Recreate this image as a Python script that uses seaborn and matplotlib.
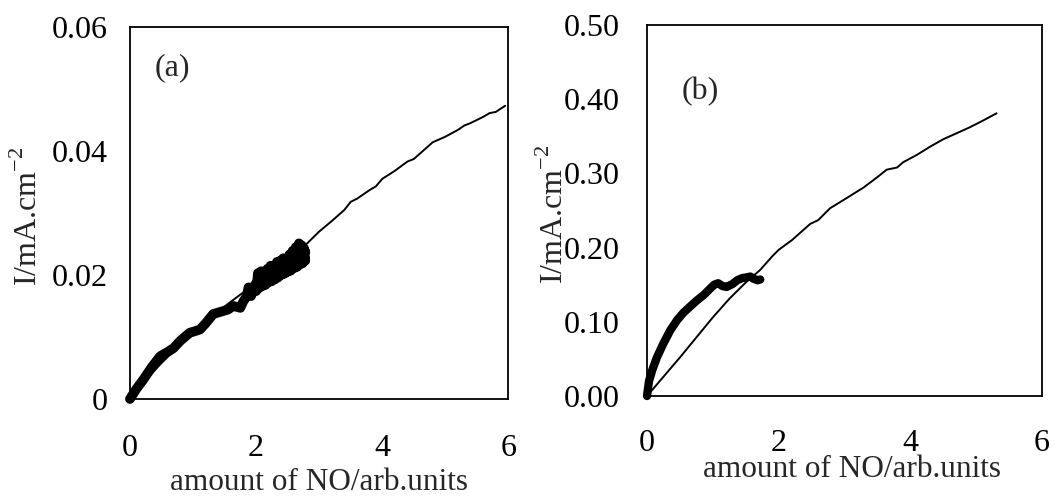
import matplotlib
matplotlib.use('Agg')
import matplotlib.pyplot as plt
import seaborn as sns
from matplotlib.ticker import FuncFormatter

sns.set_style('white')
plt.rcParams['font.family'] = ['Liberation Serif', 'DejaVu Serif']
plt.rcParams['mathtext.fontset'] = 'custom'
plt.rcParams['mathtext.rm'] = 'Liberation Serif'

# panel (a): thin line over the full range
a_thin_x = [0, 0.2, 0.5, 0.8, 1.0, 1.3, 1.6, 2.0, 2.4, 2.8, 3.0, 3.2, 3.4, 3.5, 3.6,
            3.8, 3.9, 4.0, 4.2, 4.4, 4.5, 4.6, 4.8, 5.0, 5.2, 5.3, 5.4, 5.6, 5.7, 5.8, 5.95]
a_thin_y = [0, 0.0025, 0.0058, 0.0088, 0.0108, 0.0133, 0.0157, 0.0187, 0.0218, 0.0250,
            0.0270, 0.0287, 0.0305, 0.0318, 0.0323, 0.0337, 0.0343, 0.0355, 0.0368, 0.0383,
            0.0387, 0.0396, 0.0414, 0.0423, 0.0434, 0.0441, 0.0445, 0.0455, 0.0461, 0.0463, 0.0473]

# panel (a): thick noisy measurement
a_thick_x = [0, 0.1, 0.21, 0.35, 0.48, 0.6, 0.69, 0.8, 0.95, 1.02, 1.11, 1.2, 1.32, 1.45,
             1.55, 1.64, 1.75, 1.8, 1.85, 1.88, 1.92, 1.95, 1.98, 2.0, 2.03, 2.05, 2.08,
             2.1, 2.13, 2.15, 2.18, 2.2, 2.23, 2.25, 2.28, 2.3, 2.33, 2.35, 2.38, 2.4, 2.43,
             2.45, 2.48, 2.5, 2.53, 2.55, 2.58, 2.6, 2.63, 2.65, 2.68, 2.7, 2.72, 2.74,
             2.76, 2.78, 2.75, 2.78]
a_thick_y = [0, 0.0016, 0.0031, 0.0052, 0.0069, 0.0076, 0.0082, 0.0094, 0.0107, 0.0109,
             0.0112, 0.0122, 0.0137, 0.0141, 0.0144, 0.0150, 0.0147, 0.0158, 0.0165, 0.0180,
             0.0166, 0.0174, 0.0184, 0.0174, 0.0203, 0.0179, 0.0206, 0.0182, 0.0199, 0.0184,
             0.0210, 0.0188, 0.0215, 0.0190, 0.0209, 0.0193, 0.0221, 0.0196, 0.0223, 0.0200,
             0.0227, 0.0202, 0.0221, 0.0205, 0.0233, 0.0207, 0.0239, 0.0211, 0.0245, 0.0213,
             0.0251, 0.0217, 0.0248, 0.0219, 0.0243, 0.0223, 0.0233, 0.0238]

# panel (b): thin line
b_thin_x = [0, 0.25, 0.5, 0.75, 1.0, 1.25, 1.5, 1.72, 1.9, 2.0, 2.2, 2.48, 2.6, 2.78,
            3.0, 3.29, 3.5, 3.64, 3.8, 3.89, 4.1, 4.3, 4.5, 4.7, 4.9, 5.1, 5.31]
b_thin_y = [0, 0.026, 0.052, 0.079, 0.106, 0.131, 0.153, 0.170, 0.188, 0.197, 0.210, 0.232,
            0.237, 0.253, 0.265, 0.281, 0.295, 0.305, 0.308, 0.315, 0.325, 0.336, 0.346,
            0.354, 0.362, 0.371, 0.381]

# panel (b): thick measurement
b_thick_x = [0, 0.03, 0.08, 0.15, 0.25, 0.35, 0.455, 0.55, 0.66, 0.76, 0.86, 0.95, 1.02,
             1.08, 1.15, 1.21, 1.3, 1.37, 1.45, 1.52, 1.57, 1.62, 1.68, 1.72]
b_thick_y = [0, 0.02, 0.035, 0.052, 0.071, 0.088, 0.102, 0.112, 0.121, 0.129, 0.136, 0.144,
             0.150, 0.152, 0.148, 0.147, 0.151, 0.156, 0.159, 0.160, 0.161, 0.158, 0.156, 0.157]

xticks = [0, 2, 4, 6]
a_yticks = [0, 0.02, 0.04, 0.06]
b_yticks = [0, 0.1, 0.2, 0.3, 0.4, 0.5]

fig = plt.figure(figsize=(10.6, 4.96), dpi=100)
ax1 = fig.add_axes([0.1226, 0.1956, 0.357, 0.750])
ax2 = fig.add_axes([0.6104, 0.2016, 0.3726, 0.748])

sns.lineplot(x=a_thin_x, y=a_thin_y, sort=False, estimator=None, color='black', lw=1.4, ax=ax1)
sns.lineplot(x=a_thick_x, y=a_thick_y, sort=False, estimator=None, color='black', lw=7, ax=ax1)
sns.lineplot(x=b_thin_x, y=b_thin_y, sort=False, estimator=None, color='black', lw=1.4, ax=ax2)
sns.lineplot(x=b_thick_x, y=b_thick_y, sort=False, estimator=None, color='black', lw=6, ax=ax2)

for ax in (ax1, ax2):
    for line in ax.lines:
        line.set_solid_capstyle('round')
        line.set_solid_joinstyle('round')
        line.set_clip_on(False)
    ax.set_xlim(0, 6)
    ax.set_xticks(xticks)
    for s in ax.spines.values():
        s.set_color('black')
        s.set_linewidth(1.3)
    ax.tick_params(axis='both', labelsize=23, colors='black', direction='out', width=1.0)
    ax.tick_params(axis='y', length=3, pad=13)
    ax.tick_params(axis='x', length=6.5, pad=19)

ax1.set_ylim(0, 0.06)
ax1.set_yticks(a_yticks)
ax1.yaxis.set_major_formatter(FuncFormatter(lambda v, p: '0' if v == 0 else f'{v:.2f}'))
ax1.set_xlabel('amount of NO/arb.units', fontsize=22.5)
ax1.xaxis.set_label_coords(0.5, -0.185)
ax1.set_ylabel('I/mA.cm$^{\\mathregular{-2}}$', fontsize=23)
ax1.yaxis.set_label_coords(-0.226, 0.49)
ax1.text(0.066, 0.89, '(a)', transform=ax1.transAxes, fontsize=23, va='center')

ax2.set_ylim(0, 0.5)
ax2.set_yticks(b_yticks)
ax2.yaxis.set_major_formatter(FuncFormatter(lambda v, p: f'{v:.2f}'))
ax2.tick_params(axis='y', pad=16.5)
ax2.tick_params(axis='x', pad=17.5)
ax2.set_xlabel('amount of NO/arb.units', fontsize=22.5)
ax2.xaxis.set_label_coords(0.52, -0.158)
ax2.set_ylabel('I/mA.cm$^{\\mathregular{-2}}$', fontsize=23)
ax2.yaxis.set_label_coords(-0.196, 0.49)
ax2.text(0.134, 0.82, '(b)', transform=ax2.transAxes, fontsize=23, va='center', ha='center')

fig.savefig('out.png', dpi=100)
